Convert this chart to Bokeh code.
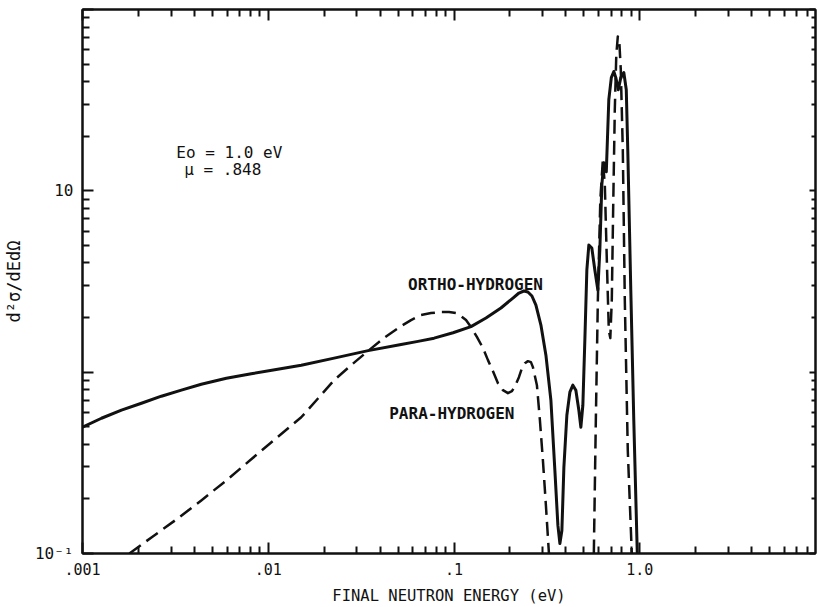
from bokeh.plotting import figure
from bokeh.models import FixedTicker, LogAxis, Label, CustomJSTickFormatter
from bokeh.embed import file_html
from bokeh.resources import INLINE

nan = float("nan")

# ORTHO-HYDROGEN (solid)
ortho_E = [0.001, 0.001265, 0.001621, 0.002076, 0.002659, 0.003406, 0.00436, 0.00595,
           0.00810, 0.01104, 0.01505, 0.02263, 0.0345, 0.0519, 0.0640, 0.0781, 0.0988,
           0.1234, 0.1486, 0.1789, 0.2076, 0.2236, 0.2378, 0.2499, 0.2627, 0.2760,
           0.2936, 0.3124, 0.3323, 0.3491, 0.3624, 0.3715, 0.3808, 0.3903, 0.4050,
           0.4204, 0.4363, 0.4528, 0.4699, 0.4818, 0.4938, 0.5062, 0.5189, 0.5319,
           0.5519, 0.5729, 0.5947, 0.6095, 0.6248, 0.6403, 0.6604, 0.6812, 0.7028,
           0.7248, 0.7430, 0.7663, 0.7902, 0.8204, 0.8459, 0.8618, 0.8946, 0.9284,
           0.9696]
ortho_v = [0.497, 0.557, 0.617, 0.674, 0.737, 0.796, 0.858, 0.925,
           0.980, 1.035, 1.092, 1.195, 1.315, 1.420, 1.478, 1.540, 1.650,
           1.784, 1.988, 2.258, 2.563, 2.732, 2.803, 2.767, 2.63, 2.345,
           1.819, 1.241, 0.700, 0.2875, 0.1428, 0.1135, 0.134, 0.2986, 0.5787,
           0.7755, 0.8477, 0.7955, 0.6166, 0.497, 0.657, 1.503, 3.66, 5.03,
           4.84, 3.66, 2.838, 4.72, 10.79, 14.28, 12.74, 31.8, 42.1,
           45.5, 42.1, 36.1, 42.1, 44.9, 36.1, 16.8, 2.838, 0.543,
           0.1]

# PARA-HYDROGEN (dashed); nan separates the part that dips below the frame
para_E = [0.001789, 0.00235, 0.00320, 0.00436, 0.00595, 0.00810, 0.01104, 0.01505,
          0.01857, 0.02263, 0.02794, 0.0349, 0.04256, 0.0519, 0.0587, 0.0665,
          0.0752, 0.0851, 0.0940, 0.1025, 0.1090, 0.1160, 0.1234, 0.1330, 0.1432,
          0.1523, 0.1621, 0.1724, 0.1834, 0.1951, 0.2050, 0.2128, 0.2236, 0.2320,
          0.2408, 0.2499, 0.2594, 0.2659, 0.2794, 0.2900, 0.3010, 0.3124, 0.3243,
          nan,
          0.5658, 0.5800, 0.5947, 0.6132, 0.6326, 0.6484, 0.6646, 0.6812, 0.6939,
          0.7069, 0.7202, 0.7337, 0.7475, 0.7615, 0.7759, 0.7902, 0.8103, 0.8306,
          0.8618, 0.9057]
para_v = [0.1, 0.1226, 0.154, 0.1963, 0.253, 0.331, 0.432, 0.564,
          0.718, 0.904, 1.093, 1.323, 1.561, 1.795, 1.938, 2.065,
          2.118, 2.145, 2.145, 2.118, 2.039, 1.938, 1.773, 1.561, 1.357,
          1.165, 1.013, 0.869, 0.7955, 0.766, 0.785, 0.837, 0.938, 1.052,
          1.121, 1.150, 1.136, 1.066, 0.848, 0.543, 0.3265, 0.184, 0.1,
          nan,
          0.1, 0.543, 2.498, 8.92, 14.84, 10.79, 4.16, 1.706, 1.541,
          2.498, 8.92, 28.0, 56.4, 70.9, 66.6, 46.6, 16.8, 2.50,
          0.371, 0.1]

x_major = [0.001, 0.01, 0.1, 1.0, 10.0]
x_labels = [".001", ".01", ".1", "1.0", ""]
y_major = [0.1, 1.0, 10.0, 100.0]
y_labels = ["10⁻¹", "", "10", ""]

x_minor = [m * d for d in x_major[:-1] for m in range(2, 10)]
y_minor = [m * d for d in y_major[:-1] for m in range(2, 10)]

INK = "#111111"
FONT = "DejaVu Sans Mono"

p = figure(width=817, height=607, x_axis_type="log", y_axis_type="log",
           x_range=(0.001, 8.83), y_range=(0.1, 100),
           output_backend="svg", toolbar_location=None,
           min_border_left=81, min_border_right=2, min_border_top=9,
           min_border_bottom=54)
p.grid.visible = False
p.outline_line_color = INK
p.outline_line_width = 2
p.background_fill_color = "white"
p.border_fill_color = "white"

xt = FixedTicker(ticks=x_major, minor_ticks=x_minor)
yt = FixedTicker(ticks=y_major, minor_ticks=y_minor)

p.xaxis.ticker = xt
p.yaxis.ticker = yt
p.xaxis.major_label_overrides = dict(zip(x_major, x_labels))
p.yaxis.major_label_overrides = dict(zip(y_major, y_labels))


def style(ax, major_len, minor_len):
    ax.axis_line_color = INK
    ax.axis_line_width = 2
    ax.major_tick_line_color = INK
    ax.major_tick_line_width = 2
    ax.minor_tick_line_color = INK
    ax.minor_tick_line_width = 2
    ax.major_tick_in = major_len
    ax.major_tick_out = 0
    ax.minor_tick_in = minor_len
    ax.minor_tick_out = 0


for ax in (p.xaxis[0], p.yaxis[0]):
    style(ax, 11, 7)
    ax.major_label_text_font = FONT
    ax.major_label_text_color = INK
    ax.axis_label_text_font = FONT
    ax.axis_label_text_font_style = "normal"
    ax.axis_label_text_color = INK

p.xaxis.major_label_text_font_size = "15px"
p.xaxis.major_label_standoff = 9
p.xaxis.axis_label = "FINAL NEUTRON ENERGY (eV)"
p.xaxis.axis_label_text_font_size = "15.5px"
p.xaxis.axis_label_standoff = 9

p.yaxis.major_label_text_font_size = "16px"
p.yaxis.major_label_standoff = 9
p.yaxis.axis_label = "d²σ/dEdΩ"
p.yaxis.axis_label_text_font_size = "17px"
p.yaxis.axis_label_standoff = 8

blank = CustomJSTickFormatter(code="return ''")
top = LogAxis(ticker=xt, formatter=blank, major_label_standoff=0)
right = LogAxis(ticker=yt, formatter=blank, major_label_standoff=0)
style(top, 11, 7)
style(right, 6, 4)
p.add_layout(top, "above")
p.add_layout(right, "right")

p.line(ortho_E, ortho_v, line_color=INK, line_width=3, line_join="round")
p.line(para_E, para_v, line_color=INK, line_width=2.5, line_dash="14 7",
       line_join="round")

labels = [
    ("Eo = 1.0 eV", 0.00320, 16.2, "normal"),
    ("μ = .848", 0.00353, 13.1, "normal"),
    ("ORTHO-HYDROGEN", 0.0566, 3.03, "bold"),
    ("PARA-HYDROGEN", 0.0448, 0.593, "bold"),
]
for txt, xe, yv, fs in labels:
    p.add_layout(Label(x=xe, y=yv, text=txt, text_font=FONT, text_font_size="16px",
                       text_font_style=fs, text_color=INK,
                       text_baseline="alphabetic", text_align="left"))

open("out.html", "w").write(file_html(p, INLINE))
